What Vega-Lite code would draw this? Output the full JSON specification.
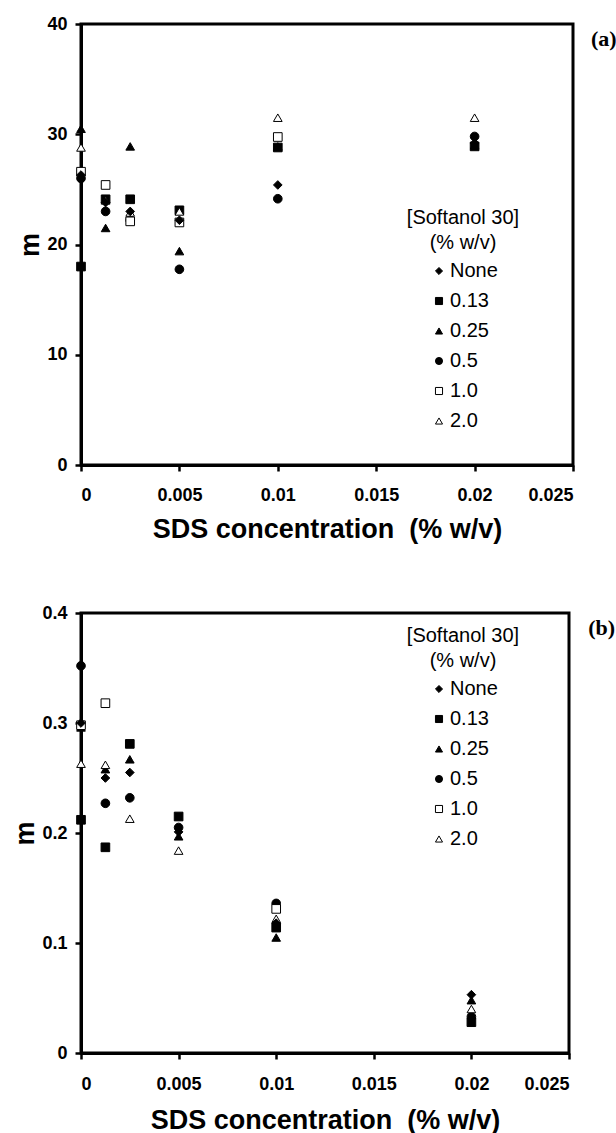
{
  "$schema": "https://vega.github.io/schema/vega-lite/v6.json",
  "padding": {"left": 10, "top": 13, "right": 0, "bottom": 0},
  "background": "white",
  "spacing": 58,
  "config": {
    "font": "Liberation Sans",
    "view": {"stroke": "black", "strokeWidth": 3},
    "axis": {
      "grid": false,
      "domainColor": "black",
      "domainWidth": 3,
      "tickColor": "black",
      "tickWidth": 2.5,
      "tickSize": 6,
      "labelFont": "Liberation Sans",
      "labelFontWeight": "bold",
      "labelFontSize": 18,
      "labelColor": "black",
      "titleFont": "Liberation Sans",
      "titleFontWeight": "bold",
      "titleFontSize": 27,
      "titleColor": "black"
    },
    "legend": {
      "orient": "none",
      "titleFont": "Liberation Sans",
      "titleFontWeight": "normal",
      "titleFontSize": 20,
      "titleLineHeight": 25,
      "titleColor": "black",
      "titleAlign": "center",
      "titleAnchor": "middle",
      "titlePadding": 8,
      "labelFont": "Liberation Sans",
      "labelFontSize": 20,
      "labelColor": "black",
      "labelOffset": 1,
      "symbolSize": 50,
      "symbolStrokeColor": "black",
      "symbolStrokeWidth": 1,
      "rowPadding": 10,
      "padding": 0
    }
  },
  "datasets": {
    "a": [
      {"sds": 0, "m": 26.3, "softanol": "None"},
      {"sds": 0, "m": 18.0, "softanol": "0.13"},
      {"sds": 0, "m": 30.5, "softanol": "0.25"},
      {"sds": 0, "m": 26.0, "softanol": "0.5"},
      {"sds": 0, "m": 26.6, "softanol": "1.0"},
      {"sds": 0, "m": 28.8, "softanol": "2.0"},
      {"sds": 0.00125, "m": 23.8, "softanol": "None"},
      {"sds": 0.00125, "m": 24.1, "softanol": "0.13"},
      {"sds": 0.00125, "m": 21.5, "softanol": "0.25"},
      {"sds": 0.00125, "m": 23.0, "softanol": "0.5"},
      {"sds": 0.00125, "m": 25.4, "softanol": "1.0"},
      {"sds": 0.00125, "m": 24.0, "softanol": "2.0"},
      {"sds": 0.0025, "m": 23.0, "softanol": "None"},
      {"sds": 0.0025, "m": 24.1, "softanol": "0.13"},
      {"sds": 0.0025, "m": 28.9, "softanol": "0.25"},
      {"sds": 0.0025, "m": 22.2, "softanol": "0.5"},
      {"sds": 0.0025, "m": 22.1, "softanol": "1.0"},
      {"sds": 0.0025, "m": 22.9, "softanol": "2.0"},
      {"sds": 0.005, "m": 22.2, "softanol": "None"},
      {"sds": 0.005, "m": 23.1, "softanol": "0.13"},
      {"sds": 0.005, "m": 19.4, "softanol": "0.25"},
      {"sds": 0.005, "m": 17.75, "softanol": "0.5"},
      {"sds": 0.005, "m": 22.0, "softanol": "1.0"},
      {"sds": 0.005, "m": 23.0, "softanol": "2.0"},
      {"sds": 0.01, "m": 25.4, "softanol": "None"},
      {"sds": 0.01, "m": 28.8, "softanol": "0.13"},
      {"sds": 0.01, "m": 28.9, "softanol": "0.25"},
      {"sds": 0.01, "m": 24.15, "softanol": "0.5"},
      {"sds": 0.01, "m": 29.75, "softanol": "1.0"},
      {"sds": 0.01, "m": 31.5, "softanol": "2.0"},
      {"sds": 0.02, "m": 29.2, "softanol": "None"},
      {"sds": 0.02, "m": 28.9, "softanol": "0.13"},
      {"sds": 0.02, "m": 29.0, "softanol": "0.25"},
      {"sds": 0.02, "m": 29.8, "softanol": "0.5"},
      {"sds": 0.02, "m": 31.5, "softanol": "2.0"}
    ],
    "b": [
      {"sds": 0, "m": 0.300, "softanol": "None"},
      {"sds": 0, "m": 0.212, "softanol": "0.13"},
      {"sds": 0, "m": 0.296, "softanol": "0.25"},
      {"sds": 0, "m": 0.352, "softanol": "0.5"},
      {"sds": 0, "m": 0.298, "softanol": "1.0"},
      {"sds": 0, "m": 0.263, "softanol": "2.0"},
      {"sds": 0.00125, "m": 0.250, "softanol": "None"},
      {"sds": 0.00125, "m": 0.187, "softanol": "0.13"},
      {"sds": 0.00125, "m": 0.258, "softanol": "0.25"},
      {"sds": 0.00125, "m": 0.227, "softanol": "0.5"},
      {"sds": 0.00125, "m": 0.318, "softanol": "1.0"},
      {"sds": 0.00125, "m": 0.262, "softanol": "2.0"},
      {"sds": 0.0025, "m": 0.255, "softanol": "None"},
      {"sds": 0.0025, "m": 0.281, "softanol": "0.13"},
      {"sds": 0.0025, "m": 0.267, "softanol": "0.25"},
      {"sds": 0.0025, "m": 0.232, "softanol": "0.5"},
      {"sds": 0.0025, "m": 0.213, "softanol": "2.0"},
      {"sds": 0.005, "m": 0.201, "softanol": "None"},
      {"sds": 0.005, "m": 0.215, "softanol": "0.13"},
      {"sds": 0.005, "m": 0.197, "softanol": "0.25"},
      {"sds": 0.005, "m": 0.205, "softanol": "0.5"},
      {"sds": 0.005, "m": 0.184, "softanol": "2.0"},
      {"sds": 0.01, "m": 0.118, "softanol": "None"},
      {"sds": 0.01, "m": 0.114, "softanol": "0.13"},
      {"sds": 0.01, "m": 0.105, "softanol": "0.25"},
      {"sds": 0.01, "m": 0.136, "softanol": "0.5"},
      {"sds": 0.01, "m": 0.131, "softanol": "1.0"},
      {"sds": 0.01, "m": 0.122, "softanol": "2.0"},
      {"sds": 0.02, "m": 0.053, "softanol": "None"},
      {"sds": 0.02, "m": 0.028, "softanol": "0.13"},
      {"sds": 0.02, "m": 0.048, "softanol": "0.25"},
      {"sds": 0.02, "m": 0.033, "softanol": "0.5"},
      {"sds": 0.02, "m": 0.040, "softanol": "2.0"}
    ]
  },
  "vconcat": [
    {
      "data": {"name": "a"},
      "width": 492,
      "height": 441,
      "title": {"text": "(a)", "orient": "right", "anchor": "start", "angle": 0, "align": "left", "baseline": "middle", "dx": -17, "dy": 24, "offset": 8, "font": "Liberation Serif", "fontWeight": "bold", "fontSize": 22, "color": "black"},
      "mark": {"type": "point", "filled": true, "strokeWidth": 1, "size": 75, "opacity": 1},
      "encoding": {
        "x": {"field": "sds", "type": "quantitative", "title": "SDS concentration\u00a0 (% w/v)", "scale": {"domain": [0, 0.025], "nice": false}, "axis": {"values": [0, 0.005, 0.01, 0.015, 0.02, 0.025], "format": "~g", "labelPadding": 15, "titlePadding": 12}},
        "y": {"field": "m", "type": "quantitative", "title": "m", "scale": {"domain": [0, 40], "nice": false}, "axis": {"values": [0, 10, 20, 30, 40], "labelPadding": 8, "titlePadding": 2}},
        "shape": {"field": "softanol", "type": "nominal", "title": ["[Softanol 30]", "(% w/v)"], "scale": {"domain": ["None", "0.13", "0.25", "0.5", "1.0", "2.0"], "range": ["diamond", "square", "triangle-up", "circle", "square", "triangle-up"]}, "legend": {"legendX": 326, "legendY": 184}},
        "fill": {"field": "softanol", "type": "nominal", "title": ["[Softanol 30]", "(% w/v)"], "scale": {"domain": ["None", "0.13", "0.25", "0.5", "1.0", "2.0"], "range": ["black", "black", "black", "black", "white", "white"]}, "legend": {"legendX": 326, "legendY": 184}},
        "stroke": {"field": "softanol", "type": "nominal", "title": ["[Softanol 30]", "(% w/v)"], "scale": {"domain": ["None", "0.13", "0.25", "0.5", "1.0", "2.0"], "range": ["black", "black", "black", "black", "black", "black"]}, "legend": {"legendX": 326, "legendY": 184}},
        "order": {"field": "softanol", "sort": "ascending"}
      }
    },
    {
      "data": {"name": "b"},
      "width": 488,
      "height": 440,
      "title": {"text": "(b)", "orient": "right", "anchor": "start", "angle": 0, "align": "left", "baseline": "middle", "dx": -17, "dy": 24, "offset": 8, "font": "Liberation Serif", "fontWeight": "bold", "fontSize": 22, "color": "black"},
      "mark": {"type": "point", "filled": true, "strokeWidth": 1, "size": 75, "opacity": 1},
      "encoding": {
        "x": {"field": "sds", "type": "quantitative", "title": "SDS concentration\u00a0 (% w/v)", "scale": {"domain": [0, 0.025], "nice": false}, "axis": {"values": [0, 0.005, 0.01, 0.015, 0.02, 0.025], "format": "~g", "labelPadding": 16, "titlePadding": 14}},
        "y": {"field": "m", "type": "quantitative", "title": "m", "scale": {"domain": [0, 0.4], "nice": false}, "axis": {"values": [0, 0.1, 0.2, 0.3, 0.4], "format": "~g", "labelPadding": 8, "titlePadding": 2}},
        "shape": {"field": "softanol", "type": "nominal", "title": ["[Softanol 30]", "(% w/v)"], "scale": {"domain": ["None", "0.13", "0.25", "0.5", "1.0", "2.0"], "range": ["diamond", "square", "triangle-up", "circle", "square", "triangle-up"]}, "legend": {"legendX": 326, "legendY": 13}},
        "fill": {"field": "softanol", "type": "nominal", "title": ["[Softanol 30]", "(% w/v)"], "scale": {"domain": ["None", "0.13", "0.25", "0.5", "1.0", "2.0"], "range": ["black", "black", "black", "black", "white", "white"]}, "legend": {"legendX": 326, "legendY": 13}},
        "stroke": {"field": "softanol", "type": "nominal", "title": ["[Softanol 30]", "(% w/v)"], "scale": {"domain": ["None", "0.13", "0.25", "0.5", "1.0", "2.0"], "range": ["black", "black", "black", "black", "black", "black"]}, "legend": {"legendX": 326, "legendY": 13}},
        "order": {"field": "softanol", "sort": "ascending"}
      }
    }
  ],
  "resolve": {"scale": {"shape": "independent", "fill": "independent", "stroke": "independent"}, "legend": {"shape": "independent", "fill": "independent", "stroke": "independent"}}
}
